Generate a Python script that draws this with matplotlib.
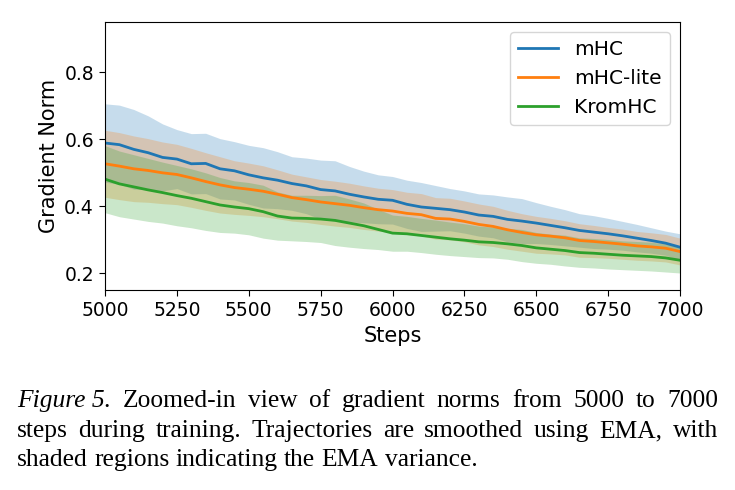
import matplotlib
matplotlib.use("Agg")
import matplotlib.pyplot as plt
import numpy as np

plt.rcParams['font.family'] = ['DejaVu Sans']

# steps sampled every 50 from 5000 to 7000
steps = list(range(5000, 7001, 50))

mhc = [0.589, 0.584, 0.570, 0.560, 0.546, 0.541, 0.527, 0.528, 0.512, 0.506,
       0.494, 0.485, 0.478, 0.468, 0.461, 0.450, 0.446, 0.436, 0.428, 0.421,
       0.418, 0.406, 0.398, 0.394, 0.390, 0.383, 0.374, 0.370, 0.361, 0.356,
       0.350, 0.343, 0.336, 0.328, 0.323, 0.318, 0.312, 0.305, 0.298, 0.290,
       0.278]
mhc_var = [0.117, 0.118, 0.119, 0.110, 0.100, 0.088, 0.090, 0.090, 0.090, 0.087,
           0.088, 0.090, 0.085, 0.080, 0.083, 0.088, 0.090, 0.083, 0.077, 0.073,
           0.071, 0.072, 0.073, 0.068, 0.063, 0.063, 0.063, 0.064, 0.067, 0.067,
           0.061, 0.057, 0.054, 0.050, 0.049, 0.046, 0.043, 0.041, 0.038, 0.036,
           0.040]

mhc_lite = [0.527, 0.520, 0.512, 0.507, 0.500, 0.495, 0.485, 0.474, 0.464, 0.456,
            0.451, 0.445, 0.436, 0.426, 0.420, 0.413, 0.408, 0.403, 0.396, 0.390,
            0.386, 0.379, 0.375, 0.364, 0.362, 0.355, 0.346, 0.340, 0.330, 0.322,
            0.315, 0.311, 0.306, 0.298, 0.295, 0.291, 0.287, 0.282, 0.279, 0.275,
            0.265]
mhc_lite_var = [0.100, 0.100, 0.098, 0.095, 0.092, 0.090, 0.088, 0.086, 0.084, 0.080,
                0.078, 0.076, 0.073, 0.070, 0.068, 0.067, 0.067, 0.066, 0.065, 0.064,
                0.064, 0.063, 0.063, 0.062, 0.062, 0.061, 0.061, 0.060, 0.058, 0.056,
                0.055, 0.053, 0.051, 0.050, 0.048, 0.046, 0.045, 0.043, 0.042, 0.041,
                0.040]

kromhc = [0.481, 0.467, 0.458, 0.449, 0.441, 0.432, 0.424, 0.414, 0.404, 0.398,
          0.393, 0.384, 0.371, 0.365, 0.364, 0.362, 0.358, 0.350, 0.342, 0.331,
          0.320, 0.318, 0.313, 0.308, 0.303, 0.299, 0.294, 0.292, 0.288, 0.283,
          0.276, 0.272, 0.268, 0.262, 0.260, 0.257, 0.254, 0.252, 0.250, 0.246,
          0.239]
kromhc_var = [0.100, 0.098, 0.096, 0.094, 0.091, 0.090, 0.088, 0.086, 0.082, 0.078,
              0.078, 0.079, 0.072, 0.068, 0.069, 0.070, 0.075, 0.072, 0.068, 0.060,
              0.054, 0.052, 0.051, 0.051, 0.050, 0.049, 0.047, 0.046, 0.046, 0.048,
              0.046, 0.045, 0.046, 0.044, 0.044, 0.044, 0.043, 0.043, 0.043, 0.042,
              0.038]

names = ["mHC", "mHC-lite", "KromHC"]
colors = ["tab:blue", "tab:orange", "tab:green"]

fig = plt.figure(figsize=(7.35, 4.9), dpi=100)
ax = fig.add_axes([0.1429, 0.408, 0.7823, 0.547])

x = np.array(steps)
for name, c, m, v in zip(names, colors,
                         [mhc, mhc_lite, kromhc],
                         [mhc_var, mhc_lite_var, kromhc_var]):
    m = np.array(m)
    v = np.array(v)
    ax.fill_between(x, m - v, m + v, color=c, alpha=0.25, linewidth=0)
    ax.plot(x, m, color=c, linewidth=2.0, label=name)

ax.set_xlim(5000, 7000)
ax.set_ylim(0.15, 0.95)
ax.set_xticks(range(5000, 7001, 250))
ax.set_yticks([0.2, 0.4, 0.6, 0.8])
ax.tick_params(labelsize=13.5, length=4.5)
ax.set_xlabel("Steps", fontsize=15)
ax.set_ylabel("Gradient Norm", fontsize=15)
ax.legend(loc="upper right", fontsize=14.5)

# caption, justified like the paper
cap_font = "Liberation Serif"
cap_size = 18.4
x0, x1 = 17 / 735, 718 / 735
lines = [
    ([("Figure 5.", "italic")] + [(w, "normal") for w in
      "Zoomed-in view of gradient norms from 5000 to 7000".split()], True),
    ([(w, "normal") for w in
      "steps during training. Trajectories are smoothed using EMA, with".split()], True),
    ([(w, "normal") for w in
      "shaded regions indicating the EMA variance.".split()], False),
]
baselines = [407, 437, 466]

fig.canvas.draw()
r = fig.canvas.get_renderer()
space = fig.text(0, 0, "a b", family=cap_font, fontsize=cap_size)
w_ab = space.get_window_extent(r).width
space.remove()
one = fig.text(0, 0, "ab", family=cap_font, fontsize=cap_size)
w_sp = (w_ab - one.get_window_extent(r).width) / fig.bbox.width
one.remove()

for (words, justify), yb in zip(lines, baselines):
    ts = [fig.text(0, 1 - yb / 490, w, family=cap_font, fontsize=cap_size,
                   style=st, va="baseline") for w, st in words]
    ws = [t.get_window_extent(r).width / fig.bbox.width for t in ts]
    gap = (x1 - x0 - sum(ws)) / (len(ws) - 1) if justify else w_sp
    xx = x0
    for t, w in zip(ts, ws):
        t.set_x(xx)
        xx += w + gap

fig.savefig("out.png", dpi=100)
